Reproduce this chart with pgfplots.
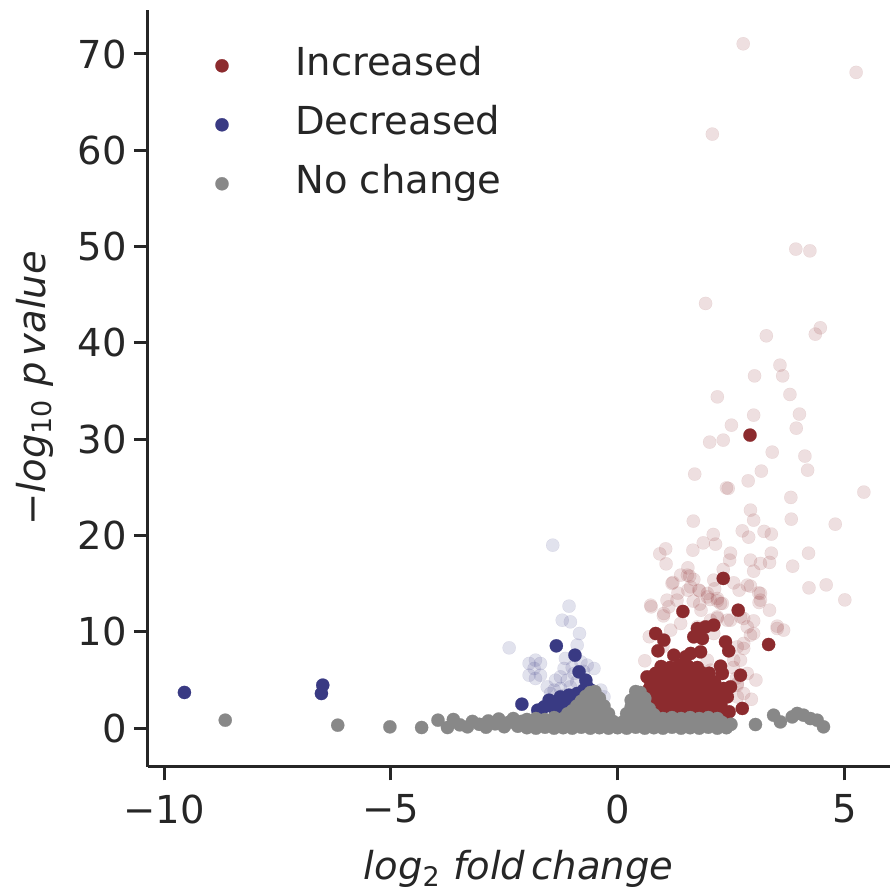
\documentclass[border=0pt]{standalone}
\usepackage{fontspec}
\setmainfont{DejaVu Sans}
\usepackage{pgfplots}
\pgfplotsset{compat=1.18}

\definecolor{incred}{RGB}{140,43,46}
\definecolor{decblue}{RGB}{57,58,131}
\definecolor{nochg}{RGB}{136,136,136}
\definecolor{txt}{RGB}{38,38,38}

\newcommand{\bigfont}{\fontsize{19.25}{23}\selectfont}

\pgfplotsset{
    dot/.style={forget plot, only marks, mark=*, mark size=3.3pt,
        mark options={draw=#1, fill=#1, line width=0.1pt}},
    faint/.style={forget plot, only marks, mark=*, mark size=3.3pt,
        mark options={draw=#1, fill=#1, line width=0.1pt, opacity=0.15}},
}

\begin{document}
\begin{tikzpicture}
\begin{axis}[
    name=ax,
    scale only axis,
    width=371pt, height=378.5pt,
    xmin=-10.36, xmax=6.0,
    ymin=-4.0, ymax=74.6,
    axis x line*=bottom, axis y line*=left,
    axis line style={draw=txt, line width=1.5pt, -},
    tick align=outside,
    major tick length=6.85pt,
    tick style={draw=txt, line width=1.5pt},
    xtick={-10,-5,0,5}, xticklabels={−10,−5,0,5},
    ytick={0,10,20,30,40,50,60,70},
    yticklabels={0,10,20,30,40,50,60,70},
    ticklabel style={font=\bigfont, text=txt},
    xticklabel style={yshift=-3.5pt},
    every axis x label/.style={at={([yshift=-56.6pt]axis description cs:0.5,0)}, anchor=base},
    every axis y label/.style={at={([xshift=-51.3pt]axis description cs:0,0.5)}, rotate=90, anchor=base},
    label style={font=\bigfont, text=txt},
    xlabel={\itshape log\textsubscript{\upshape 2} fold\,change},
    ylabel={−\textit{log}\textsubscript{10}\ \textit{p}\,\textit{value}},
    legend style={draw=none, fill=none, inner sep=0pt,
        at={([xshift=33.65pt,yshift=-18.85pt]axis description cs:0,1)}, anchor=north west,
        row sep=11.5pt, column sep=33.35pt,
        font=\bigfont, text=txt,
        nodes={inner sep=0pt, text height=14pt, text depth=4pt}},
    legend cell align=left,
    legend image code/.code={\draw[#1] plot coordinates {(0pt,0pt)};},
]
\addlegendimage{only marks, mark=*, mark size=3.3pt, mark options={draw=incred, fill=incred, line width=0.1pt}}
\addlegendentry{Increased}
\addlegendimage{only marks, mark=*, mark size=3.3pt, mark options={draw=decblue, fill=decblue, line width=0.1pt}}
\addlegendentry{Decreased}
\addlegendimage{only marks, mark=*, mark size=3.3pt, mark options={draw=nochg, fill=nochg, line width=0.1pt}}
\addlegendentry{No change}

% significant by p only (faint)
\addplot[faint=incred] coordinates {
(2.77,71.06)(5.26,68.09)(2.09,61.68)(3.93,49.74)(4.24,49.56)(1.94,44.10)(3.28,40.74)
(4.47,41.57)(4.36,40.91)(3.58,37.69)(3.64,36.58)(3.02,36.58)(3.80,34.65)(2.20,34.40)
(3.00,32.50)(4.01,32.61)(3.94,31.15)(2.51,31.46)(2.03,29.70)(2.33,29.91)(3.41,28.66)
(4.13,28.25)(4.19,26.79)(3.17,26.69)(1.70,26.38)(2.88,25.68)(2.40,24.95)(2.44,24.90)
(5.43,24.51)(3.82,23.96)(2.93,22.64)(3.00,21.60)(3.83,21.70)(4.80,21.18)(1.67,21.50)
(2.75,20.49)(3.23,20.43)(3.39,20.15)(2.89,19.83)(2.11,20.11)(1.89,19.24)(2.16,19.11)
(1.06,18.62)(0.93,18.10)(1.66,18.48)(2.49,18.17)(2.47,17.45)(3.39,18.17)(4.21,18.17)
(2.93,17.45)(3.15,17.10)(3.35,17.21)(3.86,16.82)(3.00,16.30)(1.07,17.06)(1.55,16.65)
(2.33,16.48)(1.59,15.78)(1.68,15.44)(1.22,15.13)(2.56,15.09)(4.22,14.57)(4.60,14.88)
(5.01,13.32)(1.33,14.02)(1.55,14.33)(1.81,14.26)(2.14,14.47)(2.68,14.33)(2.93,14.75)
(3.11,14.05)(3.12,13.05)(3.35,12.25)(2.04,13.36)(2.20,13.22)(2.31,12.95)(1.67,13.19)
(1.81,12.88)(1.09,13.29)(0.74,12.60)(1.01,11.66)(1.84,12.25)(2.20,11.42)(2.42,11.21)
(2.78,11.39)(3.00,11.14)(3.52,10.59)(1.39,15.89)(1.61,14.67)(2.12,15.37)(1.98,13.63)
(3.15,13.29)(1.13,12.60)(1.31,13.29)(2.71,11.56)(2.86,10.52)(3.00,9.83)(1.76,10.52)
(2.05,11.21)(2.12,9.83)(2.64,8.44)(2.78,8.80)(2.71,7.06)(2.86,5.68)(2.64,4.64)
(2.78,3.60)(0.73,12.77)(1.02,11.91)(1.20,15.03)(1.54,15.89)(1.79,14.33)(1.98,13.99)
(2.20,13.47)(2.27,12.95)(2.86,14.85)(3.15,13.99)(3.52,10.35)(3.66,10.18)(2.93,9.66)
(2.78,8.28)(2.49,11.21)(2.20,11.56)(2.64,3.25)(2.56,7.06)(1.98,7.06)(2.05,6.02)
(1.39,10.87)(1.17,10.18)(2.64,4.47)(2.55,6.30)(2.62,5.20)(2.95,3.00)(3.05,5.00)
(1.00,8.50)(0.70,9.50)(0.60,7.00)
};
\addplot[faint=decblue] coordinates {
(-1.43,19.00)(-1.07,12.67)(-1.22,11.21)(-1.04,11.04)(-0.84,9.83)(-0.89,8.62)(-2.39,8.34)
(-1.81,7.06)(-1.70,6.72)(-1.84,6.20)(-1.70,5.50)(-1.81,5.16)(-1.15,7.24)(-1.18,6.20)
(-1.26,5.33)(-1.37,4.98)(-1.11,4.98)(-1.04,4.29)(-1.26,4.12)(-1.40,3.95)(-0.67,6.54)
(-0.52,6.20)(-0.37,3.95)(-0.30,3.25)(-1.55,4.29)(-1.48,3.60)(-0.96,5.68)(-0.81,6.88)
(-1.95,6.72)(-1.95,5.50)(-1.00,6.30)(-0.90,4.80)(-1.20,3.40)(-0.75,5.90)
};

% significant by p and fold change
\addplot[dot=incred] coordinates {
(2.92,30.43)(2.33,15.55)(1.44,12.12)(2.66,12.25)(3.33,8.69)(2.75,2.05)(0.84,9.83)
(1.02,9.14)(0.89,8.03)(1.76,10.35)(1.94,10.52)(2.12,10.70)(1.68,9.48)(1.87,9.31)
(2.38,8.96)(2.45,8.03)(1.24,7.58)(1.50,7.40)(1.61,7.76)(1.83,7.92)(2.27,6.44)
(2.31,5.68)(2.71,5.50)(0.65,5.33)(0.73,4.47)(2.20,3.95)(2.49,4.29)(2.27,2.91)
(2.42,3.25)(2.34,4.12)
(0.72,0.9)(0.92,1.0)(1.12,0.8)(1.32,0.9)(1.52,1.0)(1.72,0.8)(1.92,0.9)(2.12,1.0)(2.32,0.8)
(0.64,1.7)(0.84,1.6)(1.04,1.8)(1.24,1.7)(1.44,1.6)(1.64,1.8)(1.84,1.7)(2.04,1.6)(2.24,1.8)(2.46,1.7)
(0.68,2.5)(0.88,2.6)(1.08,2.4)(1.28,2.5)(1.48,2.6)(1.68,2.4)(1.88,2.5)(2.08,2.6)(2.28,2.4)
(0.62,3.3)(0.82,3.2)(1.02,3.4)(1.22,3.3)(1.42,3.2)(1.62,3.4)(1.82,3.3)(2.02,3.2)(2.20,3.4)
(0.70,4.1)(0.90,4.2)(1.10,4.0)(1.30,4.1)(1.50,4.2)(1.70,4.0)(1.90,4.1)(2.10,4.2)
(0.76,4.9)(0.96,4.8)(1.16,5.0)(1.36,4.9)(1.56,4.8)(1.76,5.0)(1.96,4.9)(2.14,4.8)
(0.84,5.7)(1.04,5.6)(1.24,5.8)(1.44,5.7)(1.64,5.6)(1.84,5.8)(2.02,5.7)
(0.96,6.4)(1.16,6.3)(1.36,6.5)(1.56,6.4)(1.76,6.3)
};
\addplot[dot=decblue] coordinates {
(-9.55,3.71)(-6.50,4.47)(-6.53,3.60)(-1.35,8.55)(-0.94,7.58)(-0.85,5.85)(-0.70,4.98)
(-2.11,2.49)(-1.51,2.91)(-1.76,1.87)(-1.73,1.35)(-0.96,3.25)(-0.81,3.08)(-1.11,2.21)
(-1.26,2.21)(-1.40,2.05)(-1.62,2.21)(-1.48,2.56)(-1.04,3.08)(-0.89,3.60)(-0.67,4.29)
(-0.59,3.95)(-0.75,3.95)(-1.26,3.25)(-1.07,3.43)(-0.93,3.25)(-0.81,3.60)
};

% not significant
\addplot[dot=nochg] coordinates {
(-8.65,0.83)(-6.17,0.31)(-5.02,0.14)(-4.32,0.07)(-3.96,0.83)(-3.62,0.90)(-3.75,0.07)
(-3.48,0.35)(-3.31,0.14)(-3.20,0.70)(-3.05,0.40)(-2.90,0.10)(-2.85,0.75)(-2.70,0.45)
(-2.62,0.95)(-2.50,0.15)(-2.40,0.60)(-2.30,1.00)(-2.20,0.20)(-2.12,0.70)
(3.04,0.38)(3.44,1.35)(3.59,0.65)(3.85,1.17)(3.96,1.53)(4.10,1.35)(4.25,1.00)
(4.40,0.83)(4.54,0.14)
(-2.0,0.05)(-1.8,0.0)(-1.6,0.1)(-1.4,0.0)(-1.2,0.05)(-1.0,0.0)(-0.8,0.1)(-0.6,0.0)
(-0.4,0.05)(-0.2,0.0)(0.0,0.05)(0.2,0.0)(0.4,0.1)(0.6,0.0)(0.8,0.05)(1.0,0.0)(1.2,0.1)
(1.4,0.0)(1.6,0.05)(1.8,0.0)(2.0,0.1)(2.2,0.0)(2.4,0.05)
(-1.9,0.5)(-1.7,0.6)(-1.5,0.5)(-1.3,0.6)(-1.1,0.5)(-0.9,0.6)(-0.7,0.5)(-0.5,0.6)
(-0.3,0.5)(-0.1,0.6)(0.1,0.5)(0.3,0.6)(0.5,0.5)(0.7,0.6)(0.9,0.5)(1.1,0.6)(1.3,0.5)
(1.5,0.6)(1.7,0.5)(1.9,0.6)(2.1,0.5)(2.3,0.6)(2.5,0.4)
(-2.0,0.9)(-1.8,1.0)(-1.6,0.9)(-1.4,1.1)(-1.2,1.0)(-1.0,1.1)(-0.8,1.0)(-0.6,1.1)
(-0.4,1.0)(-0.2,1.0)(0.2,1.0)(0.4,1.1)(0.6,1.0)(0.8,1.1)(1.0,1.0)(1.2,1.1)(1.4,1.0)
(1.6,1.1)(1.8,1.0)(2.0,1.1)(2.2,1.0)
(-1.1,1.5)(-1.0,1.8)(-0.9,1.6)(-0.9,2.3)(-0.8,1.9)(-0.8,2.8)(-0.7,1.5)(-0.7,2.4)
(-0.7,3.3)(-0.6,1.8)(-0.6,2.7)(-0.6,3.7)(-0.5,1.5)(-0.5,2.3)(-0.5,3.1)(-0.5,3.8)
(-0.4,1.6)(-0.4,2.4)(-0.4,3.1)(-0.3,1.5)(-0.3,2.3)(-0.2,1.5)(-0.1,0.7)(0.1,0.6)
(0.2,1.5)(0.3,1.5)(0.3,2.2)(0.3,2.9)(0.4,1.6)(0.4,2.4)(0.4,3.2)(0.4,3.8)(0.5,1.5)
(0.5,2.3)(0.5,3.0)(0.5,3.7)(0.6,1.8)(0.6,2.5)(0.6,3.1)(0.7,1.5)(0.7,2.0)(0.8,1.4)
};
\end{axis}
\pgfresetboundingbox
\path[use as bounding box] ([shift={(-73.85pt,-63.15pt)}]ax.south west)
    rectangle ([shift={(371.15pt,383.35pt)}]ax.south west);
\end{tikzpicture}
\end{document}
